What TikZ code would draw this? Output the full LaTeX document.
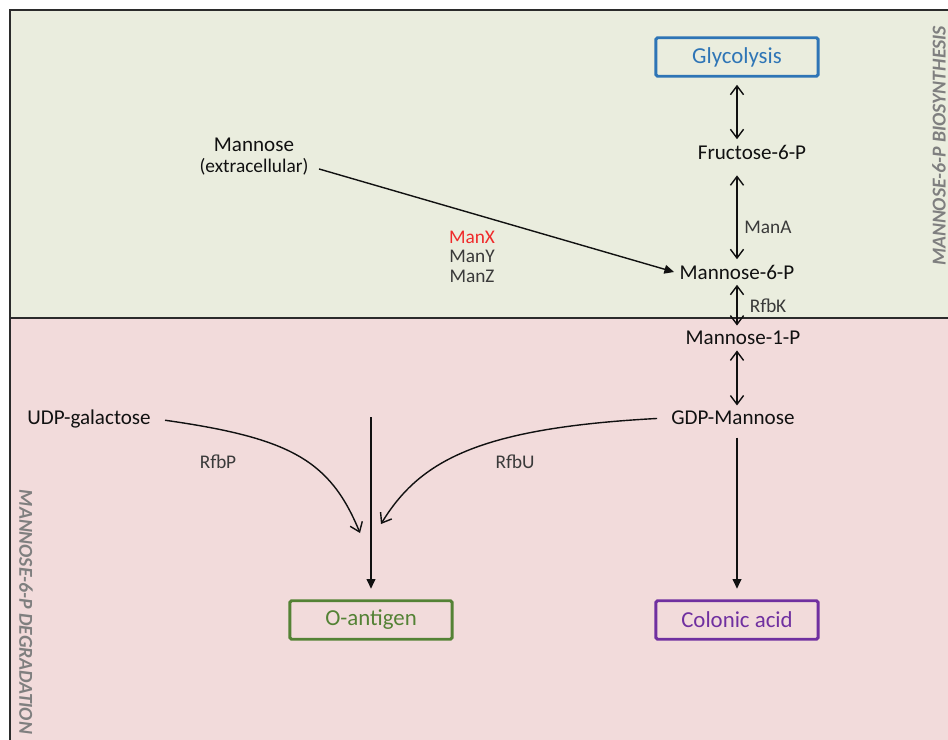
\documentclass[tikz,border=0pt]{standalone}
\usepackage{fontspec}
\setmainfont{Carlito}
\setsansfont{Carlito}
\usetikzlibrary{arrows.meta, positioning, calc}
\definecolor{ink}{HTML}{111111}
\definecolor{enzyme}{HTML}{3A3A3A}
\definecolor{manx}{HTML}{F02A2A}
\definecolor{sidegray}{HTML}{7F7F7F}
\definecolor{frame}{HTML}{2B2B2B}
\definecolor{biosoft}{HTML}{EAEDDE}
\definecolor{degsoft}{HTML}{F2DBDB}
\definecolor{glyblue}{HTML}{2E75B6}
\definecolor{antgreen}{HTML}{548235}
\definecolor{colpurple}{HTML}{7030A0}
\tikzset{
  font=\fontsize{12}{14}\selectfont,
  %
  metab/.style={text=ink, inner sep=3pt},
  extra/.style={text=ink, inner sep=2pt, font=\fontsize{11}{13}\selectfont},
  enz/.style={text=enzyme, inner sep=2pt, font=\fontsize{11}{13}\selectfont},
  endbox/.style={draw, line width=1.7pt, rounded corners=1pt, inner sep=4pt,
                 minimum width=3.25cm, minimum height=0.77cm,
                 font=\fontsize{13}{15}\selectfont},
  sidelbl/.style={text=sidegray, inner sep=0pt,
                  font=\fontsize{11.2}{13}\selectfont\bfseries\itshape},
  %
  rev/.style={draw=ink, line width=0.8pt,
              {Straight Barb[length=5pt, width=7.5pt]}-{Straight Barb[length=5pt, width=7.5pt]}},
  open/.style={draw=ink, line width=0.8pt, -{Straight Barb[length=5pt, width=7.5pt]}},
  flow/.style={draw=ink, line width=0.8pt, -{Triangle[length=5.5pt, width=5pt]}},
  panel/.style={draw=frame, line width=1.1pt},
}
\begin{document}
\begin{tikzpicture}[x=0.02cm, y=-0.02cm]

  \useasboundingbox (0,0) rectangle (948,740);
  \clip (0,0) rectangle (948,740);

  % the two compartments
  \filldraw[panel, fill=biosoft] (10,10) rectangle (970,318);
  \filldraw[panel, fill=degsoft] (10,318) rectangle (970,760);
  \node[sidelbl, rotate=90]  (biolbl) at (939,146) {MANNOSE-6-P BIOSYNTHESIS};
  \node[sidelbl, rotate=-90] (deglbl) at (26,612)  {MANNOSE-6-P DEGRADATION};

  \node[endbox, draw=glyblue, text=glyblue] (glyc) at (737,57) {Glycolysis};
  \node[metab] (fruc) at (752,152) {Fructose-6-P};
  \node[metab] (m6p)  at (737,272) {Mannose-6-P};
  \node[metab] (m1p)  at (743,338) {Mannose-1-P};
  \node[metab] (gdp)  at (733,418) {GDP-Mannose};
  \node[metab] (udp)  at (89,419)  {UDP-galactose};

  \node[metab] (mannose) at (254,145) {Mannose};
  \node[extra] (extcell) at (254,167) {(extracellular)};

  \node[endbox, draw=antgreen, text=antgreen]    (oant)  at (371,620) {O-antigen};
  \node[endbox, draw=colpurple, text=colpurple]  (colac) at (737,620) {Colonic acid};

  % enzymes
  \node[enz, text=manx] (manx) at (472,237) {ManX};
  \node[enz] (many) at (472,256) {ManY};
  \node[enz] (manz) at (472,276) {ManZ};
  \node[enz] (mana) at (768,227) {ManA};
  \node[enz] (rfbk) at (768,306) {RfbK};
  \node[enz] (rfbp) at (218,462) {RfbP};
  \node[enz] (rfbu) at (515,462) {RfbU};

  % reversible steps
  \draw[rev, shorten <=4pt] (glyc.south) -- (glyc.south |- fruc.north);
  \draw[rev, shorten <=6pt] (m6p.north |- fruc.south) -- (m6p.north);
  \draw[rev] (m6p.south) -- (m6p.south |- m1p.north);
  \draw[rev] (m6p.south |- m1p.south) -- (m6p.south |- gdp.north);

  \draw[flow, shorten <=4pt] (extcell.east) -- (m6p.west);
  \draw[flow, shorten <=4pt, shorten >=6pt] (m6p.south |- gdp.south) -- (colac.north);

  % joining into O-antigen
  \coordinate (merge) at (371,417);
  \coordinate (rfbpend) at (360,533);
  \coordinate (rfbuend) at (381,524);
  \draw[flow, shorten >=6pt] (merge) -- (oant.north);
  \draw[open, shorten <=5pt] (udp.east) .. controls (290,438) and (330,460) .. (rfbpend);
  \draw[open, shorten <=5pt] (gdp.west) .. controls (480,428) and (420,460) .. (rfbuend);

\end{tikzpicture}
\end{document}
